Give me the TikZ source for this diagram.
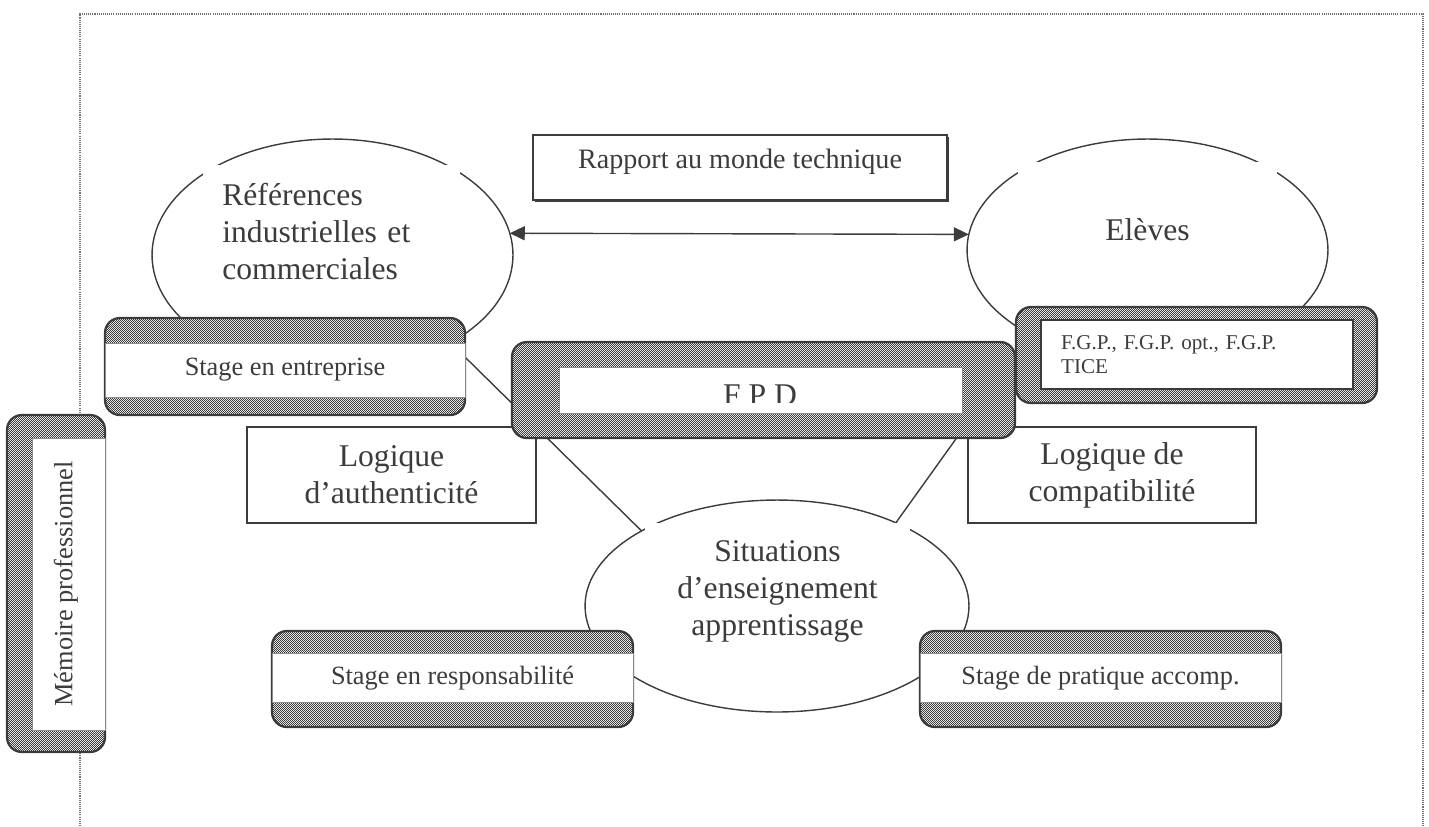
\documentclass[tikz,border=0pt]{standalone}
\usepackage{fontspec}
\setmainfont{Liberation Serif}
\usetikzlibrary{positioning,shapes.geometric,patterns,arrows.meta,shadows,backgrounds}
\definecolor{inkColor}{RGB}{60,60,60}
\pgfdeclarepatternformonly{checker}{\pgfpointorigin}{\pgfqpoint{1.134pt}{1.134pt}}{\pgfqpoint{1.134pt}{1.134pt}}{
  \pgfpathrectangle{\pgfpointorigin}{\pgfqpoint{0.567pt}{0.567pt}}
  \pgfpathrectangle{\pgfqpoint{0.567pt}{0.567pt}}{\pgfqpoint{0.567pt}{0.567pt}}
  \pgfusepath{fill}
}
\newcommand{\bigText}{\fontsize{18}{21}\selectfont}
\newcommand{\rapportText}{\fontsize{16}{18}\selectfont}
\newcommand{\smallText}{\fontsize{15}{17}\selectfont}
\newcommand{\tinyText}{\fontsize{12}{14}\selectfont}
\tikzstyle{plan} = [x = 0.02cm, y = -0.02cm]
\tikzstyle{frameLine} = [color=black!55, line width=1pt, dash pattern=on 0.6pt off 0.6pt]
\tikzstyle{ovalStyle} = [ellipse, draw=inkColor, line width=0.8pt, inner sep=0pt, outer sep=0pt]
\tikzstyle{ovalText} = [fill=white, font=\bigText, text=inkColor, inner sep=0pt]
\tikzstyle{plainBox} = [draw=inkColor, fill=white, line width=1pt, font=\bigText, text=inkColor, align=center, inner sep=0pt]
\tikzstyle{hatchStyle} = [draw=inkColor, line width=1.3pt, rounded corners=0.3cm, preaction={fill=white}, pattern=checker, pattern color=inkColor, inner sep=0pt, outer sep=0pt]
\tikzstyle{bandStyle} = [draw=black!45, line width=0.5pt, fill=white]
\tikzstyle{stageText} = [font=\smallText, text=inkColor, inner sep=0pt]
\tikzstyle{link} = [draw=inkColor, line width=0.8pt]
\newcommand{\hatchBox}[5]{\node (#1) [hatchStyle, minimum width={(#4-#2)*0.02cm}, minimum height={(#5-#3)*0.02cm}] at ({(#2+#4)/2},{(#3+#5)/2}) {};}
\newcommand{\whiteBand}[4]{\filldraw [bandStyle] (#1,#2) rectangle (#3,#4);}
\begin{document}
\begin{tikzpicture}[plan]
  \useasboundingbox (0,0) rectangle (1429,826);
  \draw [frameLine] (80,826) -- (80,14) -- (1423,14) -- (1423,826);

  \node (refEll) [ovalStyle, minimum width=7.22cm, minimum height=4.64cm] at (332.5,255) {};
  \node (eleEll) [ovalStyle, minimum width=7.22cm, minimum height=4.44cm] at (1147.5,250) {};
  \node (situEll) [ovalStyle, minimum width=7.68cm, minimum height=4.24cm] at (777,606) {};
  \node (refText) [ovalText, anchor=north west, text width=4.38cm, inner xsep=0.38cm, inner ysep=0.36cm, align=left] at (203,165) {Références\\industrielles et\\commerciales};
  \node (eleText) [ovalText, anchor=north, text width=4.38cm, inner xsep=0.4cm, inner ysep=31.9pt, align=center] at (1147.5,162) {Elèves};
  \node (situText) [ovalText, anchor=north, text width=4.5cm, inner xsep=0.4cm, inner ysep=0.35cm, align=center] at (777.5,523) {Situations\\d’enseignement\\apprentissage};

  \node (authBox) [plainBox, minimum width=5.78cm, minimum height=1.92cm] at (391.5,475) {Logique\\d’authenticité};
  \node (compBox) [plainBox, minimum width=5.76cm, minimum height=1.92cm] at (1112,475) {Logique de\\compatibilité};
  \node (rapport) [plainBox, font=\rapportText, minimum width=8.28cm, minimum height=1.3cm, text depth=10pt, general shadow={fill=inkColor, shadow xshift=0.9pt, shadow yshift=-0.9pt}] at (740,167.5) {Rapport au monde technique};
  \draw [link, {Triangle[length=0.3cm, width=0.28cm]}-{Triangle[length=0.3cm, width=0.28cm]}] (refEll.7) -- (eleEll.175);

  \hatchBox{entBox}{105}{318}{465}{415}
  \whiteBand{105}{343}{465}{397}
  \node (entText) [stageText] at (285,370) {Stage en entreprise};

  \hatchBox{memBox}{7}{415}{105}{752}
  \whiteBand{32}{438}{105}{730}
  \node (memText) [stageText, rotate=90] at (66,584) {Mémoire professionnel};

  \hatchBox{fpdBox}{512}{342}{1015}{438}
  \node (fpdBand) [bandStyle, minimum width=8.06cm, minimum height=0.92cm, inner sep=0pt] at (760.5,390) {};
  \begin{scope}
    \clip (559,367) rectangle (962,402);
    \node (fpdText) [font=\bigText, text=inkColor, inner sep=0pt, anchor=base] at (760,405) {F P D};
  \end{scope}

  \hatchBox{fgpBox}{1016}{307}{1377}{403}
  \node (fgpText) [draw=inkColor, line width=1.3pt, fill=white, anchor=north west, text width=5.44cm, inner xsep=0.4cm, inner ysep=8.5pt, align=left, font=\tinyText, text=inkColor] at (1040,319) {F.G.P., F.G.P. opt., F.G.P.\\TICE};

  \hatchBox{respBox}{272}{631}{633}{727}
  \whiteBand{272}{653}{633}{702}
  \node (respText) [stageText] at (452.5,678) {Stage en responsabilité};

  \hatchBox{pratBox}{920}{631}{1281}{727}
  \whiteBand{920}{653}{1281}{702}
  \node (pratText) [stageText] at (1100.5,678) {Stage de pratique accomp.};

  \begin{pgfonlayer}{background}
    \draw [link] (entBox.3) -- (situEll.151);
    \draw [link] (fgpBox.west) -- (situEll.35);
  \end{pgfonlayer}
\end{tikzpicture}
\end{document}
